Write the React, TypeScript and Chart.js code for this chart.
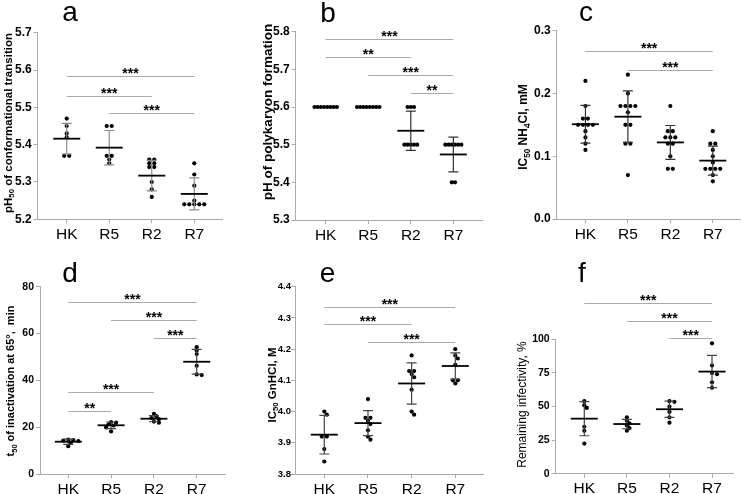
import React, { useEffect, useRef } from "react";
import { Chart, registerables } from "chart.js";
Chart.register(...registerables);

const FONT = '"Liberation Sans", Arial, Helvetica, sans-serif';
Chart.defaults.font.family = FONT;

const categories = ["HK", "R5", "R2", "R7"];

// ---- Panel a: pH50 of conformational transition
const aHK = [5.47, 5.45, 5.43, 5.42, 5.37, 5.37];
const aR5 = [5.45, 5.45, 5.37, 5.37, 5.36, 5.35];
const aR2 = [5.36, 5.36, 5.35, 5.35, 5.34, 5.34, 5.3, 5.28, 5.26];
const aR7 = [5.35, 5.32, 5.29, 5.25, 5.24, 5.24, 5.24, 5.24, 5.24];
const aMean = [5.416, 5.392, 5.317, 5.268];
const aSD = [0.041, 0.046, 0.041, 0.043];
const aYTicks = [5.2, 5.3, 5.4, 5.5, 5.6, 5.7];
const aBrackets: [number, number, number, string][] = [
  [0, 3, 5.584, "***"],
  [0, 2, 5.531, "***"],
  [1, 3, 5.485, "***"],
];

// ---- Panel b: pH of polykaryon formation
const bHK = [5.6, 5.6, 5.6, 5.6, 5.6, 5.6, 5.6, 5.6];
const bR5 = [5.6, 5.6, 5.6, 5.6, 5.6, 5.6, 5.6, 5.6];
const bR2 = [5.6, 5.6, 5.6, 5.5, 5.5, 5.5, 5.5, 5.5];
const bR7 = [5.5, 5.5, 5.5, 5.5, 5.5, 5.5, 5.4, 5.4];
const bMean = [null, null, 5.537, 5.474];
const bSD = [0, 0, 0.052, 0.046];
const bYTicks = [5.3, 5.4, 5.5, 5.6, 5.7, 5.8];
const bBrackets: [number, number, number, string][] = [
  [0, 3, 5.78, "***"],
  [0, 2, 5.732, "**"],
  [1, 3, 5.684, "***"],
  [2, 3, 5.636, "**"],
];

// ---- Panel c: IC50 NH4Cl, mM
const cHK = [0.22, 0.18, 0.16, 0.16, 0.15, 0.15, 0.15, 0.15, 0.14, 0.13, 0.12, 0.11];
const cR5 = [0.23, 0.2, 0.18, 0.18, 0.18, 0.18, 0.17, 0.15, 0.15, 0.12, 0.12, 0.07];
const cR2 = [0.18, 0.14, 0.14, 0.13, 0.13, 0.13, 0.12, 0.12, 0.1, 0.08, 0.08];
const cR7 = [0.14, 0.12, 0.12, 0.11, 0.1, 0.09, 0.08, 0.08, 0.08, 0.08, 0.07, 0.06];
const cMean = [0.151, 0.163, 0.122, 0.093];
const cSD = [0.03, 0.041, 0.027, 0.023];
const cYTicks = [0.0, 0.1, 0.2, 0.3];
const cBrackets: [number, number, number, string][] = [
  [0, 3, 0.267, "***"],
  [1, 3, 0.238, "***"],
];

// ---- Panel d: t50 of inactivation at 65°, min
const dHK = [14.8, 14.6, 14.4, 14.2, 13.5, 12.0];
const dR5 = [22.3, 22.0, 21.3, 20.8, 20.0, 18.3];
const dR2 = [25.8, 24.8, 24.0, 23.5, 22.5, 22.0];
const dR7 = [54.2, 52.8, 51.3, 46.3, 42.6, 42.3];
const dMean = [13.9, 20.9, 23.7, 48.0];
const dSD = [1.1, 1.4, 1.3, 5.3];
const dYTicks = [0, 20, 40, 60, 80];
const dBrackets: [number, number, number, string][] = [
  [0, 3, 73.3, "***"],
  [1, 3, 65.6, "***"],
  [2, 3, 58.0, "***"],
  [0, 2, 35.0, "***"],
  [0, 1, 26.8, "**"],
];

// ---- Panel e: IC50 GnHCl, M
const eHK = [4.0, 3.99, 3.92, 3.92, 3.88, 3.84];
const eR5 = [4.04, 3.98, 3.98, 3.97, 3.96, 3.94, 3.92, 3.91];
const eR2 = [4.18, 4.13, 4.13, 4.12, 4.11, 4.07, 4.0, 3.99];
const eR7 = [4.2, 4.18, 4.17, 4.15, 4.1, 4.1, 4.09];
const eMean = [3.926, 3.963, 4.09, 4.146];
const eSD = [0.062, 0.04, 0.066, 0.042];
const eYTicks = [3.8, 3.9, 4.0, 4.1, 4.2, 4.3, 4.4];
const eBrackets: [number, number, number, string][] = [
  [0, 3, 4.336, "***"],
  [0, 2, 4.28, "***"],
  [1, 3, 4.222, "***"],
];

// ---- Panel f: Remaining infectivity, %
const fHK = [54, 51, 49, 35, 32, 22.5];
const fR5 = [42, 39.5, 37.5, 36, 34, 32];
const fR2 = [54, 53.5, 50, 46, 42, 38];
const fR7 = [97, 80.5, 75, 74, 68, 64];
const fMean = [41, 37, 48, 76];
const fSD = [12.7, 3.5, 6, 12];
const fYTicks = [0, 25, 50, 75, 100];
const fBrackets: [number, number, number, string][] = [
  [0, 3, 126.7, "***"],
  [1, 3, 113.6, "***"],
  [2, 3, 100.7, "***"],
];

type Seg = [string, boolean];

const YW = 30;
const XH = 28;

const panels = [
  {
    letter: "a", letterX: 70, letterY: 21,
    L: 0, T: 0, W: 245, H: 262,
    area: { left: 37.7, top: 32.7, right: 222.7, bottom: 219.3 },
    xMin: -0.682, xMax: 3.668, yMin: 5.2, yMax: 5.7, yTicks: aYTicks, dec: 1, tickSize: 12, tickPad: 2,
    groups: [aHK, aR5, aR2, aR7], means: aMean, sds: aSD, brackets: aBrackets,
    title: [["pH", false], ["50", true], [" of conformational transition", false]] as Seg[],
    titleX: 7.5, titleY: 123, titleSize: 11.5, titleWeight: "bold",
    whisker: "#8a8a8a", gap: 5,
  },
  {
    letter: "b", letterX: 328, letterY: 21.5,
    L: 245, T: 0, W: 245, H: 262,
    area: { left: 295.7, top: 31.7, right: 482.7, bottom: 220 },
    xMin: -0.705, xMax: 3.69, yMin: 5.3, yMax: 5.8, yTicks: bYTicks, dec: 1, tickSize: 12, tickPad: 2,
    groups: [bHK, bR5, bR2, bR7], means: bMean, sds: bSD, brackets: bBrackets,
    title: [["pH of polykaryon formation", false]] as Seg[],
    titleX: 266.7, titleY: 112, titleSize: 13.5, titleWeight: "bold",
    whisker: "#333", gap: 3.2,
  },
  {
    letter: "c", letterX: 586, letterY: 21,
    L: 490, T: 0, W: 253, H: 262,
    area: { left: 556.7, top: 30.7, right: 742.7, bottom: 219 },
    xMin: -0.677, xMax: 3.662, yMin: 0, yMax: 0.3, yTicks: cYTicks, dec: 1, tickSize: 12, tickPad: 2,
    groups: [cHK, cR5, cR2, cR7], means: cMean, sds: cSD, brackets: cBrackets,
    title: [["IC", false], ["50", true], [" NH", false], ["4", true], ["Cl, mM", false]] as Seg[],
    titleX: 523, titleY: 127, titleSize: 12, titleWeight: "bold",
    whisker: "#333", gap: 5,
  },
  {
    letter: "d", letterX: 70, letterY: 282,
    L: 0, T: 247, W: 245, H: 262,
    area: { left: 40, top: 286.7, right: 225, bottom: 474.3 },
    xMin: -0.661, xMax: 3.661, yMin: 0, yMax: 80, yTicks: dYTicks, dec: 0, tickSize: 10.5, tickPad: 2,
    groups: [dHK, dR5, dR2, dR7], means: dMean, sds: dSD, brackets: dBrackets,
    title: [["t", false], ["50", true], [" of inactivation at 65°,  min", false]] as Seg[],
    titleX: 10.5, titleY: 381, titleSize: 11, titleWeight: "bold",
    whisker: "#444", gap: 5,
  },
  {
    letter: "e", letterX: 327.5, letterY: 281.7,
    L: 245, T: 247, W: 245, H: 262,
    area: { left: 295, top: 286.7, right: 483.3, bottom: 474 },
    xMin: -0.671, xMax: 3.641, yMin: 3.8, yMax: 4.4, yTicks: eYTicks, dec: 1, tickSize: 9.5, tickPad: 0,
    groups: [eHK, eR5, eR2, eR7], means: eMean, sds: eSD, brackets: eBrackets,
    title: [["IC", false], ["50", true], [" GnHCl, M", false]] as Seg[],
    titleX: 271.5, titleY: 385, titleSize: 11.5, titleWeight: "bold",
    whisker: "#444", gap: 5,
  },
  {
    letter: "f", letterX: 582, letterY: 281.7,
    L: 490, T: 247, W: 253, H: 262,
    area: { left: 555.7, top: 339.3, right: 733.3, bottom: 473.8 },
    xMin: -0.672, xMax: 3.5, yMin: 0, yMax: 100, yTicks: fYTicks, dec: 0, tickSize: 10.5, tickPad: 2,
    groups: [fHK, fR5, fR2, fR7], means: fMean, sds: fSD, brackets: fBrackets,
    title: [["Remaining infectivity, %", false]] as Seg[],
    titleX: 522, titleY: 404.5, titleSize: 12, titleWeight: "normal",
    whisker: "#444", gap: 5,
  },
];

type PanelCfg = (typeof panels)[number];

function swarm(vals: number[], pxPerY: number, gap: number, minDist: number) {
  const uniq = Array.from(new Set(vals)).sort((a, b) => b - a);
  const placed: { x: number; y: number }[] = [];
  const out: { v: number; off: number }[] = [];
  const cands = [0, gap / 2, -gap / 2, gap, -gap, 1.5 * gap, -1.5 * gap, 2 * gap, -2 * gap];
  for (const u of uniq) {
    const n = vals.filter((v) => v === u).length;
    const y = u * pxPerY;
    const base = Array.from({ length: n }, (_, j) => (j - (n - 1) / 2) * gap);
    let shift = 0;
    for (const s of cands) {
      const ok = base.every((bx) => placed.every((p) => Math.hypot(p.x - (bx + s), p.y - y) >= minDist));
      if (ok) { shift = s; break; }
    }
    base.forEach((bx) => {
      placed.push({ x: bx + shift, y });
      out.push({ v: u, off: bx + shift });
    });
  }
  return out;
}

function drawRotatedTitle(ctx: CanvasRenderingContext2D, segs: Seg[], cx: number, cy: number, size: number, weight: string) {
  const mainFont = `${weight} ${size}px ${FONT}`;
  const subFont = `${weight} ${size * 0.68}px ${FONT}`;
  ctx.save();
  ctx.translate(cx, cy);
  ctx.rotate(-Math.PI / 2);
  let total = 0;
  for (const [t, sub] of segs) {
    ctx.font = sub ? subFont : mainFont;
    total += ctx.measureText(t).width;
  }
  let x = -total / 2;
  const base = size * 0.36;
  ctx.fillStyle = "#000";
  ctx.textAlign = "left";
  ctx.textBaseline = "alphabetic";
  for (const [t, sub] of segs) {
    ctx.font = sub ? subFont : mainFont;
    ctx.fillText(t, x, sub ? base + size * 0.22 : base);
    x += ctx.measureText(t).width;
  }
  ctx.restore();
}

function Panel({ cfg }: { cfg: PanelCfg }) {
  const ref = useRef<HTMLCanvasElement | null>(null);
  useEffect(() => {
    const canvas = ref.current!;
    const a = cfg.area;
    const pxPerY = (a.bottom - a.top) / (cfg.yMax - cfg.yMin);
    const pxPerX = (a.right - a.left) / (cfg.xMax - cfg.xMin);
    const points: { x: number; y: number }[] = [];
    cfg.groups.forEach((vals, gi) => {
      swarm(vals, pxPerY, cfg.gap, 3.2).forEach((p) => points.push({ x: gi + p.off / pxPerX, y: p.v }));
    });

    const overlay = {
      id: "overlay",
      afterDatasetsDraw(chart: any) {
        const ctx: CanvasRenderingContext2D = chart.ctx;
        const xs = chart.scales.x;
        const ys = chart.scales.y;
        ctx.save();
        cfg.means.forEach((m: number | null, i: number) => {
          if (m === null) return;
          const cx = xs.getPixelForValue(i);
          const sd = cfg.sds[i];
          const yTop = ys.getPixelForValue(m + sd);
          const yBot = ys.getPixelForValue(m - sd);
          ctx.strokeStyle = cfg.whisker;
          ctx.lineWidth = 1.2;
          ctx.beginPath();
          ctx.moveTo(cx, yTop); ctx.lineTo(cx, yBot);
          ctx.moveTo(cx - 5, yTop); ctx.lineTo(cx + 5, yTop);
          ctx.moveTo(cx - 5, yBot); ctx.lineTo(cx + 5, yBot);
          ctx.stroke();
          const ym = ys.getPixelForValue(m);
          ctx.strokeStyle = "#000";
          ctx.lineWidth = 1.8;
          ctx.beginPath();
          ctx.moveTo(cx - 13.5, ym); ctx.lineTo(cx + 13.5, ym);
          ctx.stroke();
        });
        ctx.restore();
      },
      afterDraw(chart: any) {
        const ctx: CanvasRenderingContext2D = chart.ctx;
        const xs = chart.scales.x;
        const ys = chart.scales.y;
        ctx.save();
        for (const [from, to, yv, label] of cfg.brackets) {
          const x1 = xs.getPixelForValue(from);
          const x2 = xs.getPixelForValue(to);
          const y = Math.round(ys.getPixelForValue(yv)) + 0.5;
          ctx.strokeStyle = "#aaaaaa";
          ctx.lineWidth = 1;
          ctx.beginPath();
          ctx.moveTo(x1, y); ctx.lineTo(x2, y);
          ctx.stroke();
          ctx.fillStyle = "#000";
          ctx.font = `bold 14px ${FONT}`;
          ctx.textAlign = "center";
          ctx.textBaseline = "alphabetic";
          ctx.fillText(label, (x1 + x2) / 2, y + 1);
        }
        ctx.fillStyle = "#000";
        ctx.font = `28px ${FONT}`;
        ctx.textAlign = "center";
        ctx.textBaseline = "alphabetic";
        ctx.fillText(cfg.letter, cfg.letterX - cfg.L, cfg.letterY - cfg.T);
        drawRotatedTitle(ctx, cfg.title, cfg.titleX - cfg.L, cfg.titleY - cfg.T, cfg.titleSize, cfg.titleWeight);
        ctx.restore();
      },
    };

    const gridCol = "#aaaaaa";
    const chart = new Chart(canvas, {
      type: "scatter",
      data: {
        datasets: [
          {
            data: points,
            pointRadius: 2.1,
            pointHoverRadius: 2.1,
            pointBackgroundColor: "#000",
            pointBorderWidth: 0,
            showLine: false,
          },
        ],
      },
      options: {
        animation: false,
        responsive: false,
        maintainAspectRatio: false,
        events: [],
        layout: {
          padding: {
            left: a.left - cfg.L - YW,
            top: a.top - cfg.T,
            right: cfg.L + cfg.W - a.right,
            bottom: cfg.T + cfg.H - a.bottom - XH,
          },
        },
        plugins: { legend: { display: false }, tooltip: { enabled: false } },
        scales: {
          x: {
            type: "linear",
            min: cfg.xMin,
            max: cfg.xMax,
            afterBuildTicks: (s: any) => { s.ticks = categories.map((_, i) => ({ value: i })); },
            afterFit: (s: any) => { s.height = XH; },
            ticks: {
              callback: (_v: any, i: number) => categories[i],
              font: { family: FONT, size: 15.5 },
              color: "#000",
              padding: 2,
              maxRotation: 0,
              autoSkip: false,
            },
            grid: { display: true, drawOnChartArea: false, drawTicks: true, tickLength: 4, color: gridCol },
            border: { display: true, color: gridCol, width: 1 },
          },
          y: {
            type: "linear",
            min: cfg.yMin,
            max: cfg.yMax,
            afterBuildTicks: (s: any) => { s.ticks = cfg.yTicks.map((v) => ({ value: v })); },
            afterFit: (s: any) => { s.width = YW; },
            ticks: {
              callback: (v: any) => Number(v).toFixed(cfg.dec),
              font: { family: FONT, size: cfg.tickSize, weight: "bold" },
              color: "#000",
              padding: cfg.tickPad,
              autoSkip: false,
            },
            grid: { display: true, drawOnChartArea: false, drawTicks: true, tickLength: 4, color: gridCol },
            border: { display: true, color: gridCol, width: 1 },
          },
        },
      },
      plugins: [overlay],
    } as any);
    return () => chart.destroy();
  }, [cfg]);
  return (
    <canvas
      ref={ref}
      width={cfg.W}
      height={cfg.H}
      style={{ position: "absolute", left: cfg.L, top: cfg.T, width: cfg.W, height: cfg.H }}
    />
  );
}

export default function App() {
  return (
    <div style={{ position: "absolute", left: 0, top: 0, width: 743, height: 494, background: "#fff", overflow: "hidden" }}>
      {panels.map((p) => (
        <Panel key={p.letter} cfg={p} />
      ))}
    </div>
  );
}
